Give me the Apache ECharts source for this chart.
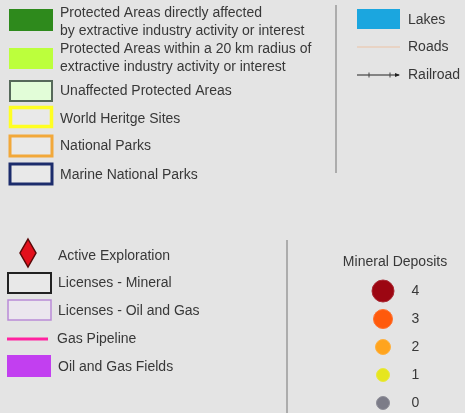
<!DOCTYPE html>
<html>
<head>
<meta charset="utf-8">
<script src="https://cdn.jsdelivr.net/npm/echarts@6/dist/echarts.min.js"></script>
<style>
html,body{margin:0;padding:0;background:#e4e4e4;}
#chart{width:465px;height:413px;}
</style>
</head>
<body>
<div id="chart"></div>
<script>
// ---- data ----
var protectedLabels = [
  'Protected Areas directly affected\nby extractive industry activity or interest',
  'Protected Areas within a 20 km radius of\nextractive industry activity or interest',
  'Unaffected Protected Areas',
  'World Heritge Sites',
  'National Parks',
  'Marine National Parks'
];
var featureLabels = ['Lakes', 'Roads', 'Railroad'];
var industryLabels = ['Active Exploration', 'Licenses - Mineral', 'Licenses - Oil and Gas', 'Gas Pipeline', 'Oil and Gas Fields'];
var depositTitle = 'Mineral Deposits';
var depositValues = [4, 3, 2, 1, 0];
var depositColors = ['#9c0612', '#ff5a0c', '#ffa41e', '#e6e61e', '#7c7c88'];
var depositSizes = [22, 19, 15, 13, 13];

// ---- styles ----
var TXT = '#383838';
var FONT = '14px "Liberation Sans", Arial, sans-serif';
function label(x, y, s, lh) {
  return {type:'text', x:x, y:y, style:{text:s, fill:TXT, font:FONT, textVerticalAlign:'middle', lineHeight: lh || 17}};
}
function box(x, y, w, h, fill, stroke, lw) {
  return {type:'rect', shape:{x:x, y:y, width:w, height:h}, style:{fill:fill, stroke:stroke || null, lineWidth:lw || 0}};
}

var g = [];
// protected areas
g.push(box(9, 9, 44, 22, '#2e8a1c'));
g.push(label(60, 22, protectedLabels[0], 18));
g.push(box(9, 48, 44, 21, '#bcff3c'));
g.push(label(60, 58, protectedLabels[1], 18));
g.push(box(10, 81, 42, 20, '#e2fdd8', '#56695a', 2));
g.push(label(60, 91, protectedLabels[2]));
g.push(box(10.5, 107.5, 41, 19, '#e9e9e9', '#ffff22', 3.5));
g.push(label(60, 119, protectedLabels[3]));
g.push(box(10, 136, 42, 20, '#e9e9e9', '#f2a83a', 3));
g.push(label(60, 146, protectedLabels[4]));
g.push(box(10, 164, 42, 20, '#e9e9e9', '#1c2c6c', 3));
g.push(label(60, 175, protectedLabels[5]));

// separator
g.push({type:'line', shape:{x1:336, y1:5, x2:336, y2:173}, style:{stroke:'#9a9a9a', lineWidth:1.5}});

// features
g.push(box(357, 9, 43, 20, '#1ba6df'));
g.push(label(408, 20, featureLabels[0]));
g.push({type:'line', shape:{x1:357, y1:47, x2:400, y2:47}, style:{stroke:'#ecc2a4', lineWidth:1}});
g.push(label(408, 47, featureLabels[1]));
g.push({type:'line', shape:{x1:357, y1:75, x2:399, y2:75}, style:{stroke:'#222', lineWidth:1}});
g.push({type:'line', shape:{x1:369, y1:72.5, x2:369, y2:77.5}, style:{stroke:'#444', lineWidth:1}});
g.push({type:'line', shape:{x1:390, y1:72.5, x2:390, y2:77.5}, style:{stroke:'#444', lineWidth:1}});
g.push({type:'polygon', shape:{points:[[400,75],[395,73],[395,77]]}, style:{fill:'#222'}});
g.push(label(408, 75, featureLabels[2]));

// industry
g.push({type:'polygon', shape:{points:[[28,239],[36,253],[28,267],[20,253]]}, style:{fill:'#e3101c', stroke:'#5a0808', lineWidth:1.5}});
g.push(label(58, 256, industryLabels[0]));
g.push(box(8, 273, 43, 20, '#e8e8e8', '#222222', 2));
g.push(label(58, 283, industryLabels[1]));
g.push(box(8, 300, 43, 20, '#ebe6ee', '#b98ad6', 1.5));
g.push(label(58, 311, industryLabels[2]));
g.push({type:'line', shape:{x1:7, y1:339, x2:48, y2:339}, style:{stroke:'#ff22a0', lineWidth:3}});
g.push(label(57, 339, industryLabels[3]));
g.push(box(7, 355, 44, 22, '#c23ff0'));
g.push(label(58, 367, industryLabels[4]));

// separator
g.push({type:'line', shape:{x1:287, y1:240, x2:287, y2:413}, style:{stroke:'#9a9a9a', lineWidth:1.5}});
g.push({type:'text', x:395, y:262, style:{text:depositTitle, fill:TXT, font:FONT, textAlign:'center', textVerticalAlign:'middle'}});

var chart = echarts.init(document.getElementById('chart'), null, {renderer:'canvas'});
chart.setOption({
  backgroundColor:'#e4e4e4',
  animation:false,
  graphic: g,
  grid:{left:373, width:20, top:291, height:112},
  xAxis:{type:'value', min:0, max:2, show:false},
  yAxis:{type:'value', min:0, max:4, show:false},
  series:[{
    type:'scatter',
    emphasis:{disabled:true},
    data: depositValues.map(function(v, i){
      return {
        value:[1, v],
        symbolSize: depositSizes[i],
        itemStyle:{color: depositColors[i], opacity:1, borderColor: echarts.color.lift(depositColors[i], 0.15), borderWidth:1},
        label:{show:true, position:'right', distance: 28 - depositSizes[i]/2, formatter: String(v), color:TXT, fontSize:14, fontFamily:'"Liberation Sans", Arial, sans-serif'}
      };
    })
  }]
});
</script>
</body>
</html>
